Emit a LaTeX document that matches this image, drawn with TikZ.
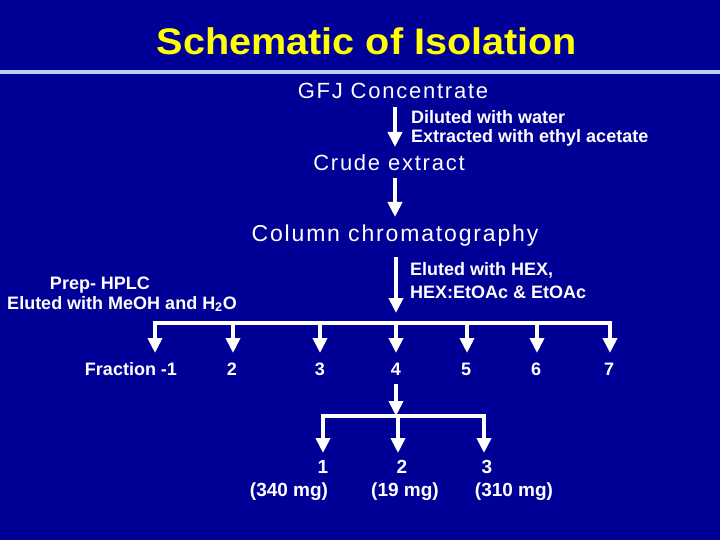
\documentclass[tikz,border=0pt]{standalone}
\usepackage{fontspec}
\setmainfont{Liberation Sans}
\newfontfamily\spaced[LetterSpace=8]{Liberation Sans}
\usetikzlibrary{arrows.meta}
\definecolor{bg}{RGB}{0,0,150}
\definecolor{rule}{RGB}{185,210,240}
\definecolor{ttl}{RGB}{255,255,0}
\tikzset{
  titletext/.style={text=ttl,font=\fontsize{37}{42}\selectfont\bfseries,inner sep=0pt},
  bigtext/.style={text=white,font=\spaced\fontsize{22}{24}\selectfont,inner sep=0pt},
  smalltext/.style={text=white,font=\fontsize{18}{21}\selectfont\bfseries,inner sep=0pt},
  numtext/.style={text=white,font=\fontsize{19}{22}\selectfont\bfseries,inner sep=0pt},
  flow/.style={draw=white,line width=4pt,-{Triangle[width=14pt,length=15pt]}},
  barline/.style={draw=white,line width=4.5pt},
}
\begin{document}
\begin{tikzpicture}[x=1pt,y=-1pt]
\fill[bg] (0,0) rectangle (720,540);
\useasboundingbox (0,0) rectangle (720,540);
\fill[rule] (0,70) rectangle (720,74);
\node[titletext] (title) at (367,41) {\scalebox{1.07}[1]{Schematic of Isolation}};
% main column
\node[bigtext] (gfj) at (393,91) {GFJ Concentrate};
\node[bigtext] (crude) at (389,163) {Crude extract};
\node[bigtext,font=\spaced\fontsize{23}{25}\selectfont] (col) at (395,236) {Column chromatography};
\coordinate (a1s) at (395,107);
\coordinate (a1e) at (395,147);
\coordinate (a2s) at (395,178);
\coordinate (a2e) at (395,217);
\coordinate (a3s) at (396,257);
\coordinate (a3e) at (396,313);
\draw[flow] (a1s) -- (a1e);
\draw[flow] (a2s) -- (a2e);
\draw[flow] (a3s) -- (a3e);
\node[smalltext,anchor=west] (dil) at (411,117) {Diluted with water};
\node[smalltext,anchor=west] (ext) at (411,138) {Extracted with ethyl acetate};
\node[smalltext,anchor=west] (elu1) at (410,270) {Eluted with HEX,};
\node[smalltext,anchor=west] (elu2) at (410,292) {HEX:EtOAc \& EtOAc};
\node[smalltext] (prep) at (100,285) {Prep- HPLC};
\node[smalltext] (meoh) at (122,304) {Eluted with MeOH and H\textsubscript{2}O};
% first bar
\coordinate (b1l) at (155,323);
\coordinate (b1r) at (610,323);
\draw[barline] ([xshift=-2.25pt]b1l) -- ([xshift=2.25pt]b1r);
\foreach \n/\x in {f1/155,f2/233,f3/320,f4/396,f5/467,f6/537,f7/610}{
  \coordinate (\n top) at (\x,321);
  \coordinate (\n tip) at (\x,353);
  \draw[flow] (\n top) -- (\n tip);
}
\node[smalltext] (fr1) at (131,369) {Fraction -1};
\node[smalltext] (fr2) at (232,369) {2};
\node[smalltext] (fr3) at (320,369) {3};
\node[smalltext] (fr4) at (396,369) {4};
\node[smalltext] (fr5) at (466,369) {5};
\node[smalltext] (fr6) at (536,369) {6};
\node[smalltext] (fr7) at (609,369) {7};
% second bar
\coordinate (c0s) at (396,384);
\coordinate (c0e) at (396,416);
\draw[flow] (c0s) -- (c0e);
\coordinate (b2l) at (323,416);
\coordinate (b2r) at (484,416);
\draw[barline] ([xshift=-2.25pt]b2l) -- ([xshift=2.25pt]b2r);
\foreach \n/\x in {p1/323,p2/398,p3/484}{
  \coordinate (\n top) at (\x,414);
  \coordinate (\n tip) at (\x,453);
  \draw[flow] (\n top) -- (\n tip);
}
\node[numtext] (n1) at (323,467) {1};
\node[numtext] (n2) at (402,467) {2};
\node[numtext] (n3) at (487,467) {3};
\node[numtext] (m1) at (289,492) {(340 mg)};
\node[numtext] (m2) at (405,492) {(19 mg)};
\node[numtext] (m3) at (514,492) {(310 mg)};
\end{tikzpicture}
\end{document}
